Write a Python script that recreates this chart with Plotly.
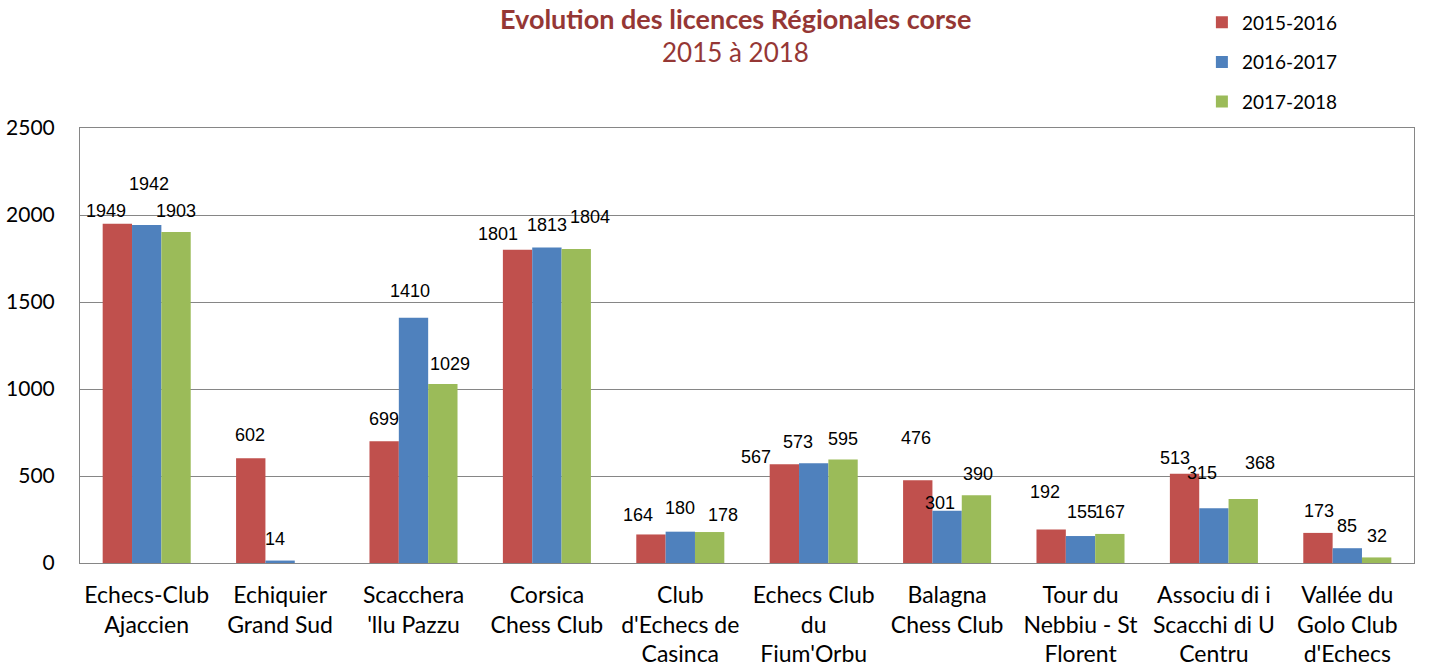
import plotly.graph_objects as go

categories = [
    "Echecs-Club<br>Ajaccien",
    "Echiquier<br>Grand Sud",
    "Scacchera<br>'llu Pazzu",
    "Corsica<br>Chess Club",
    "Club<br>d'Echecs de<br>Casinca",
    "Echecs Club<br>du<br>Fium'Orbu",
    "Balagna<br>Chess Club",
    "Tour du<br>Nebbiu - St<br>Florent",
    "Associu di i<br>Scacchi di U<br>Centru",
    "Vallée du<br>Golo Club<br>d'Echecs",
]
s2015 = [1949, 602, 699, 1801, 164, 567, 476, 192, 513, 173]
s2016 = [1942, 14, 1410, 1813, 180, 573, 301, 155, 315, 85]
s2017 = [1903, None, 1029, 1804, 178, 595, 390, 167, 368, 32]
series_names = ["2015-2016", "2016-2017", "2017-2018"]
yticks = [0, 500, 1000, 1500, 2000, 2500]

# styling: colours and the hand-placed data-label nudges (pixels) of the original
colors = ["#C0504D", "#4F81BD", "#9BBB59"]
label_dx = [
    [-11, -1, 0, -20, -13, -28, -2, -6, -10, 1],
    [2, -5, -4, 0, 0, -16, -7, 1, -12, 0],
    [0, 0, 7, 14, 13, 0, 2, 0, 17, 0],
]
label_dy = [
    [13, 23, 22, 16, 19, 7, 42, 38, 16, 22],
    [41, 22, 27, 23, 24, 21, 8, 24, 35, 22],
    [21, 0, 20, 32, 17, 20, 21, 22, 36, 21],
]

W, H = 1434, 666
L, R, T, B = 80, 20, 128, 103
bargap = 0.34
plot_w = W - L - R
plot_h = H - T - B
bar_w = plot_w / len(categories) * (1 - bargap) / 3

fig = go.Figure()
all_vals = [s2015, s2016, s2017]
for i, (name, vals) in enumerate(zip(series_names, all_vals)):
    fig.add_trace(go.Bar(
        x=categories, y=vals, name=name, marker_color=colors[i],
        marker_line_width=0, legendgroup=name,
    ))
    for j, v in enumerate(vals):
        if v is None:
            continue
        fig.add_annotation(
            x=categories[j], y=v, xref="x", yref="y", text=str(v), showarrow=False,
            xanchor="center", yanchor="middle",
            xshift=(i - 1) * bar_w + label_dx[i][j], yshift=label_dy[i][j],
            font=dict(family="Liberation Sans, Arial", size=18, color="#000000"),
        )

fig.add_annotation(text="<b>Evolution des licences Régionales corse</b>",
                   xref="paper", x=0.4915, yref="paper", y=1.0 + (T - 18) / plot_h,
                   xanchor="center", yanchor="middle", showarrow=False,
                   font=dict(family="Lato, Open Sans", size=27, color="#953735"))
fig.add_annotation(text="2015 à 2018",
                   xref="paper", x=0.4915, yref="paper", y=1.0 + (T - 52) / plot_h,
                   xanchor="center", yanchor="middle", showarrow=False,
                   font=dict(family="Lato, Open Sans", size=26, color="#953735"))

fig.update_layout(
    width=W, height=H,
    margin=dict(l=L, r=R, t=T, b=B, autoexpand=False),
    paper_bgcolor="white", plot_bgcolor="white",
    barmode="group", bargap=bargap, bargroupgap=0,
    legend=dict(
        x=0.841, xref="paper", y=0.995, yref="container", xanchor="left", yanchor="top",
        font=dict(family="Lato, Open Sans", size=19, color="#000000"),
        tracegroupgap=12, bgcolor="rgba(0,0,0,0)",
    ),
    showlegend=True,
)
fig.update_xaxes(
    showline=True, linecolor="#868686", linewidth=1, mirror=True,
    tickfont=dict(family="Lato, Open Sans", size=23, color="#000000"),
    ticks="", showgrid=False, automargin=False, ticklabelstandoff=11,
)
fig.update_yaxes(
    range=[0, 2500], tickvals=yticks, ticktext=[str(t) for t in yticks],
    showline=True, linecolor="#868686", linewidth=1, mirror=True,
    showgrid=True, gridcolor="#868686", gridwidth=1,
    tickfont=dict(family="Lato, Open Sans", size=21, color="#000000"),
    ticks="", ticklabelstandoff=20, zeroline=False, automargin=False,
)
fig.write_html(
    "out.html",
    config={"displayModeBar": False},
    post_script="document.body.style.margin='0';document.body.style.overflow='hidden';",
)
